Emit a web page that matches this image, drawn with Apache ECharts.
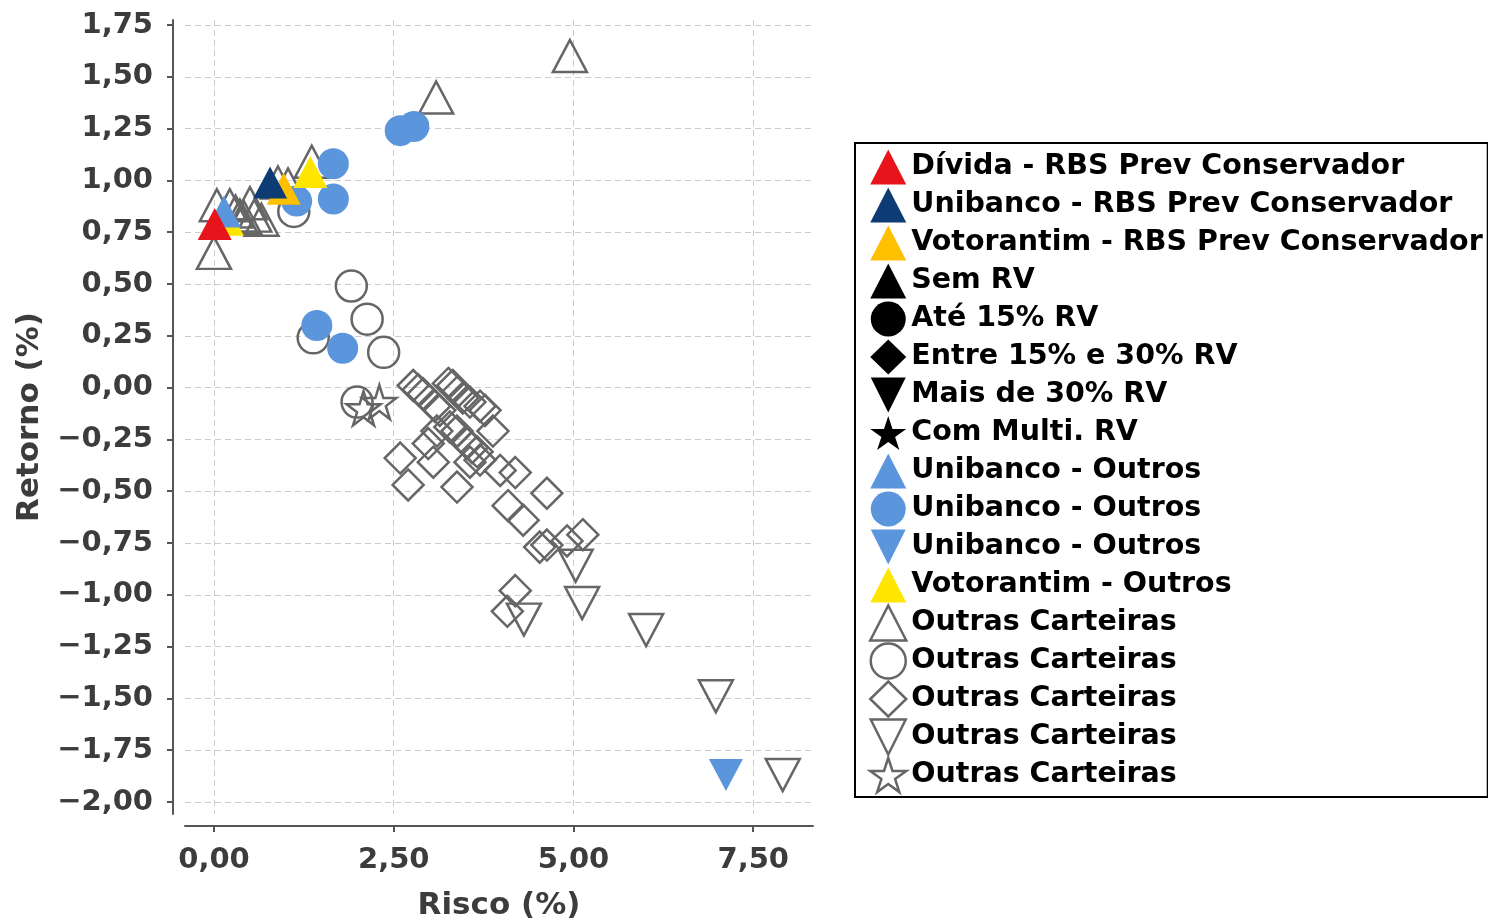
<!DOCTYPE html>
<html>
<head>
<meta charset="utf-8">
<script src="https://cdn.jsdelivr.net/npm/echarts@6/dist/echarts.min.js"></script>
<style>
html,body{margin:0;padding:0;background:#fff;}
#chart{width:1488px;height:921px;}
</style>
</head>
<body>
<div id="chart"></div>
<script>
// ---- data: [Risco (%), Retorno (%)] ----
const xTicks = [0, 2.5, 5, 7.5];
const yTicks = [-2, -1.75, -1.5, -1.25, -1, -0.75, -0.5, -0.25, 0, 0.25, 0.5, 0.75, 1, 1.25, 1.5, 1.75];

const dividaRBS = [[0.01, 0.79]];
const unibancoRBS = [[0.78, 0.99]];
const votorantimRBS = [[0.97, 0.96]];
const semRV = [];
const ate15RV = [];
const entre15e30RV = [];
const maisDe30RV = [];
const comMultiRV = [];
const unibancoOutrosTri = [[0.14, 0.85]];
const unibancoOutrosCirc = [[1.15, 0.90], [1.66, 1.08], [1.66, 0.91], [2.59, 1.24], [2.78, 1.26], [1.43, 0.30], [1.79, 0.19]];
const unibancoOutrosDown = [[7.12, -1.87]];
const votorantimOutros = [[1.34, 1.04], [0.18, 0.81]];
const outrasTri = [[4.95, 1.60], [3.09, 1.40], [0.00, 0.65], [0.04, 0.88], [0.22, 0.88], [0.30, 0.85], [0.36, 0.83], [0.42, 0.82], [0.50, 0.89], [0.56, 0.83], [0.66, 0.81], [0.89, 0.99], [1.03, 0.98], [1.36, 1.09]];
const outrasCirc = [[1.11, 0.85], [1.91, 0.49], [2.13, 0.33], [2.36, 0.17], [1.38, 0.24], [1.99, -0.07]];
const outrasDiam = [
  [2.77, 0.01], [2.84, -0.01], [2.91, -0.03], [3.26, 0.02], [3.32, 0.01], [3.39, -0.02], [3.46, -0.05],
  [3.07, -0.09], [3.14, -0.11], [3.56, -0.07], [3.70, -0.09], [3.77, -0.11], [3.28, -0.19], [3.38, -0.21],
  [3.10, -0.21], [2.98, -0.27], [3.52, -0.27], [3.59, -0.29], [3.66, -0.31], [3.70, -0.35], [3.56, -0.36],
  [3.88, -0.21], [2.59, -0.34], [3.05, -0.36], [2.70, -0.47], [3.38, -0.48], [3.98, -0.40], [4.19, -0.41],
  [4.63, -0.51], [4.09, -0.57], [4.30, -0.64], [4.53, -0.77], [4.63, -0.76], [4.91, -0.74], [5.13, -0.71],
  [4.19, -0.98], [4.08, -1.08]
];
const outrasDown = [[5.03, -0.86], [5.12, -1.04], [4.31, -1.12], [6.01, -1.17], [6.98, -1.49], [7.91, -1.87]];
const outrasStar = [[2.08, -0.10], [2.30, -0.07]];

// ---- styles ----
const FONT = 'DejaVu Sans';
const GRAY = '#666666';
const DOWN = 'path://M-1,-1L1,-1L0,1Z';
const STAR = 'path://M0,-1L0.2245,-0.309L0.951,-0.309L0.363,0.118L0.588,0.809L0,0.382L-0.588,0.809L-0.363,0.118L-0.951,-0.309L-0.2245,-0.309Z';
const TRI_SIZE = [34, 32], CIRC_SIZE = 31, DIAM_SIZE = 31, DOWN_SIZE = [34, 32], STAR_SIZE = 34;
const C_RED = '#e8141c', C_NAVY = '#0d3b73', C_ORANGE = '#ffc000', C_BLUE = '#5b95dc', C_YELLOW = '#ffe600';

const hollow = {color: 'rgba(0,0,0,0)', borderColor: GRAY, borderWidth: 2.5, opacity: 1};
const solid = c => ({color: c, borderWidth: 0, opacity: 1});
const fmt = v => v.toFixed(2).replace('.', ',').replace('-', '\u2212');

function sc(name, data, symbol, size, itemStyle, z) {
  return {type: 'scatter', name: name, data: data, symbol: symbol, symbolSize: size,
          itemStyle: itemStyle, z: z, emphasis: {disabled: true}};
}

const series = [
  sc('Outras Carteiras#1', outrasTri, 'triangle', TRI_SIZE, hollow, 2),
  sc('Outras Carteiras#2', outrasCirc, 'circle', CIRC_SIZE, hollow, 2),
  sc('Outras Carteiras#3', outrasDiam, 'diamond', DIAM_SIZE, hollow, 2),
  sc('Outras Carteiras#4', outrasDown, DOWN, DOWN_SIZE, hollow, 2),
  sc('Outras Carteiras#5', outrasStar, STAR, STAR_SIZE, hollow, 2),
  sc('Sem RV', semRV, 'triangle', TRI_SIZE, solid('#000'), 3),
  sc('Até 15% RV', ate15RV, 'circle', CIRC_SIZE, solid('#000'), 3),
  sc('Entre 15% e 30% RV', entre15e30RV, 'diamond', DIAM_SIZE, solid('#000'), 3),
  sc('Mais de 30% RV', maisDe30RV, DOWN, DOWN_SIZE, solid('#000'), 3),
  sc('Com Multi. RV', comMultiRV, STAR, STAR_SIZE, solid('#000'), 3),
  sc('Unibanco - Outros#2', unibancoOutrosCirc, 'circle', CIRC_SIZE, solid(C_BLUE), 4),
  sc('Unibanco - Outros#3', unibancoOutrosDown, DOWN, DOWN_SIZE, solid(C_BLUE), 4),
  sc('Votorantim - Outros', votorantimOutros, 'triangle', TRI_SIZE, solid(C_YELLOW), 4),
  sc('Unibanco - Outros#1', unibancoOutrosTri, 'triangle', TRI_SIZE, solid(C_BLUE), 5),
  sc('Votorantim - RBS Prev Conservador', votorantimRBS, 'triangle', TRI_SIZE, solid(C_ORANGE), 6),
  sc('Unibanco - RBS Prev Conservador', unibancoRBS, 'triangle', TRI_SIZE, solid(C_NAVY), 7),
  sc('Dívida - RBS Prev Conservador', dividaRBS, 'triangle', TRI_SIZE, solid(C_RED), 8)
];

const legendData = [
  {name: 'Dívida - RBS Prev Conservador', icon: 'triangle', itemStyle: solid(C_RED)},
  {name: 'Unibanco - RBS Prev Conservador', icon: 'triangle', itemStyle: solid(C_NAVY)},
  {name: 'Votorantim - RBS Prev Conservador', icon: 'triangle', itemStyle: solid(C_ORANGE)},
  {name: 'Sem RV', icon: 'triangle', itemStyle: solid('#000')},
  {name: 'Até 15% RV', icon: 'circle', itemStyle: solid('#000')},
  {name: 'Entre 15% e 30% RV', icon: 'diamond', itemStyle: solid('#000')},
  {name: 'Mais de 30% RV', icon: DOWN, itemStyle: solid('#000')},
  {name: 'Com Multi. RV', icon: STAR, itemStyle: solid('#000')},
  {name: 'Unibanco - Outros#1', icon: 'triangle', itemStyle: solid(C_BLUE)},
  {name: 'Unibanco - Outros#2', icon: 'circle', itemStyle: solid(C_BLUE)},
  {name: 'Unibanco - Outros#3', icon: DOWN, itemStyle: solid(C_BLUE)},
  {name: 'Votorantim - Outros', icon: 'triangle', itemStyle: solid(C_YELLOW)},
  {name: 'Outras Carteiras#1', icon: 'triangle', itemStyle: hollow},
  {name: 'Outras Carteiras#2', icon: 'circle', itemStyle: hollow},
  {name: 'Outras Carteiras#3', icon: 'diamond', itemStyle: hollow},
  {name: 'Outras Carteiras#4', icon: DOWN, itemStyle: hollow},
  {name: 'Outras Carteiras#5', icon: STAR, itemStyle: hollow}
];

const axisCommon = {
  type: 'value',
  nameLocation: 'middle',
  nameTextStyle: {fontFamily: FONT, fontWeight: 'bold', fontSize: 31, color: '#3c3c3c'},
  axisLine: {show: true, onZero: false, lineStyle: {color: '#555', width: 2}},
  axisTick: {show: true, length: 6, lineStyle: {color: '#555', width: 2}},
  axisLabel: {fontFamily: FONT, fontWeight: 'bold', fontSize: 29, color: '#3c3c3c', formatter: fmt},
  splitLine: {show: true, lineStyle: {color: '#cccccc', width: 1, type: [6, 4]}}
};

const chart = echarts.init(document.getElementById('chart'), null, {renderer: 'canvas'});
chart.setOption({
  animation: false,
  backgroundColor: '#fff',
  grid: {left: 185, right: 675, top: 20, bottom: 107, containLabel: false, outerBoundsMode: 'none'},
  xAxis: Object.assign({}, axisCommon, {
    name: 'Risco (%)', nameGap: 64, min: -0.403, max: 8.331, offset: 12,
    axisTick: Object.assign({}, axisCommon.axisTick, {customValues: xTicks}),
    axisLabel: Object.assign({}, axisCommon.axisLabel, {customValues: xTicks, margin: 20})
  }),
  yAxis: Object.assign({}, axisCommon, {
    name: 'Retorno (%)', nameGap: 128, nameRotate: 90, min: -2.058, max: 1.774, offset: 12,
    axisTick: Object.assign({}, axisCommon.axisTick, {customValues: yTicks}),
    axisLabel: Object.assign({}, axisCommon.axisLabel, {customValues: yTicks, margin: 20})
  }),
  legend: {
    orient: 'vertical', left: 855, top: 143,
    padding: [5, 5, 3, 14],
    itemWidth: 36, itemHeight: 35, itemGap: 0,
    borderColor: '#000', borderWidth: 2,
    selectedMode: false,
    textStyle: {fontFamily: FONT, fontWeight: 'bold', fontSize: 28.5, lineHeight: 38, color: '#000'},
    formatter: name => name.split('#')[0],
    data: legendData
  },
  series: series
});
</script>
</body>
</html>
